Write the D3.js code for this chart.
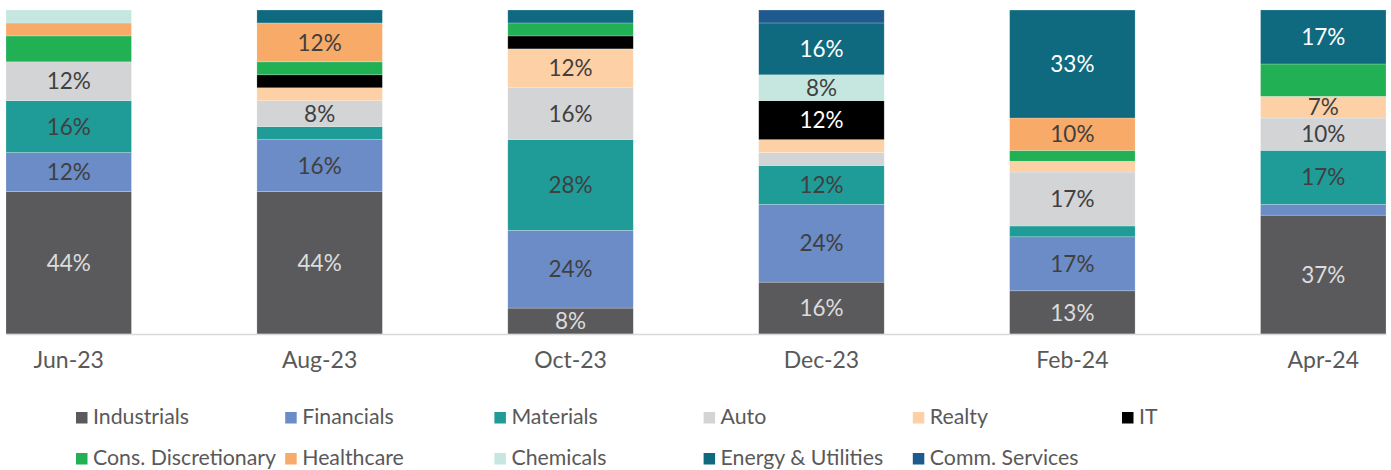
<!DOCTYPE html>
<html>
<head>
<meta charset="utf-8">
<script src="https://cdn.jsdelivr.net/npm/d3@7"></script>
<style>
  html, body { margin: 0; padding: 0; background: #fff; }
  svg { display: block; font-family: Lato, "Noto Sans", sans-serif; }
</style>
</head>
<body>
<svg id="chart" width="1391" height="470"></svg>
<script>
// ---- data ----
const categories = ["Jun-23", "Aug-23", "Oct-23", "Dec-23", "Feb-24", "Apr-24"];
const seriesNames = ["Industrials", "Financials", "Materials", "Auto", "Realty", "IT",
  "Cons. Discretionary", "Healthcare", "Chemicals", "Energy & Utilities", "Comm. Services"];
const industrials = [44, 44, 8, 16, 13.33, 36.67];
const financials  = [12, 16, 24, 24, 16.67, 3.33];
const materials   = [16, 4, 28, 12, 3.33, 16.67];
const auto        = [12, 8, 16, 4, 16.67, 10];
const realty      = [0, 4, 12, 4, 3.33, 6.67];
const it          = [0, 4, 4, 12, 0, 0];
const consDisc    = [8, 4, 4, 0, 3.33, 10];
const healthcare  = [4, 12, 0, 0, 10, 0];
const chemicals   = [4, 0, 0, 8, 0, 0];
const energy      = [0, 4, 4, 16, 33.33, 16.67];
const commServ    = [0, 0, 0, 4, 0, 0];
const seriesValues = [industrials, financials, materials, auto, realty, it,
  consDisc, healthcare, chemicals, energy, commServ];
// labels not shown in the source chart
const hiddenLabels = [["Jun-23", "Cons. Discretionary"], ["Apr-24", "Cons. Discretionary"]];

// ---- styles ----
const colors = ["#5a5a5c", "#6b8cc7", "#1f9b98", "#d3d4d6", "#fdd0a6", "#000000",
  "#22b055", "#f8ab68", "#c5e7df", "#0f6a80", "#1f5a8e"];
const labelColors = {"Industrials": "#dcdcdc", "IT": "#ffffff", "Energy & Utilities": "#ffffff"};

const svg = d3.select("#chart");
const rows = categories.map((c, i) => {
  const r = {cat: c};
  seriesNames.forEach((s, j) => r[s] = seriesValues[j][i]);
  return r;
});
const stack = d3.stack().keys(seriesNames)(rows);

const x = d3.scaleBand().domain(categories).range([6, 1386]).paddingInner(0.5).paddingOuter(0);
const y = d3.scaleLinear().domain([0, 100]).range([334, 10]);
const color = d3.scaleOrdinal().domain(seriesNames).range(colors);

const g = svg.append("g");
stack.forEach(layer => {
  const key = layer.key;
  const lg = g.append("g");
  lg.selectAll("rect").data(layer.filter(d => d[1] - d[0] > 0)).join("rect")
    .attr("x", d => x(d.data.cat))
    .attr("width", x.bandwidth())
    .attr("y", d => y(d[1]))
    .attr("height", d => y(d[0]) - y(d[1]))
    .attr("fill", color(key))
    .attr("stroke", "#ffffff")
    .attr("stroke-opacity", 0.35)
    .attr("stroke-width", 0.6);
  lg.selectAll("text").data(layer.filter(d => {
      const v = d[1] - d[0];
      return v >= 6.5 && !hiddenLabels.some(h => h[0] === d.data.cat && h[1] === key);
    })).join("text")
    .attr("x", d => x(d.data.cat) + x.bandwidth() / 2)
    .attr("y", d => (y(d[0]) + y(d[1])) / 2)
    .attr("dy", "0.36em")
    .attr("text-anchor", "middle")
    .attr("font-size", 22.5)
    .attr("fill", labelColors[key] || "#404040")
    .text(d => Math.round(d[1] - d[0]) + "%");
});

// axis
const axis = svg.append("g").attr("transform", "translate(0,334)")
  .call(d3.axisBottom(x).tickSize(0).tickPadding(18));
axis.select(".domain").attr("stroke", "#d9d9d9").attr("stroke-width", 1.5);
axis.selectAll("text").attr("font-size", 23).attr("fill", "#595959")
  .attr("font-family", "Lato, 'Noto Sans', sans-serif");

// legend
const legendOrder = ["Industrials", "Financials", "Materials", "Auto", "Realty", "IT",
  "Cons. Discretionary", "Healthcare", "Chemicals", "Energy & Utilities", "Comm. Services"];
const lx = d3.scalePoint().domain(d3.range(6)).range([76, 1122]);
const ly = [423.5, 464.5];
const leg = svg.append("g").selectAll("g").data(legendOrder).join("g")
  .attr("transform", (d, i) => `translate(${lx(i % 6)},${ly[Math.floor(i / 6)]})`);
leg.append("rect").attr("x", 0).attr("y", -11.5).attr("width", 11.5).attr("height", 11.5)
  .attr("fill", d => color(d));
leg.append("text").attr("x", 17).attr("y", 0).attr("font-size", 21.3)
  .attr("fill", "#595959")
  .text(d => d);
</script>
</body>
</html>
